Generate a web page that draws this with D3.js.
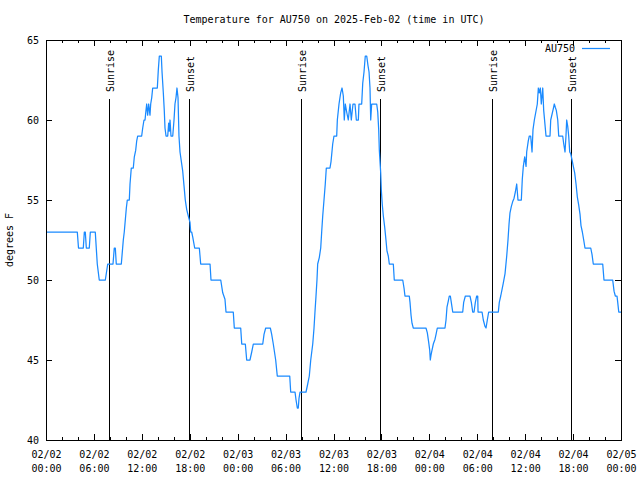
<!DOCTYPE html>
<html>
<head>
<meta charset="utf-8">
<script src="https://cdn.jsdelivr.net/npm/d3@7"></script>
<style>
html,body{margin:0;padding:0;background:#fff;}
svg{display:block;}
text{font-family:"DejaVu Sans Mono","Liberation Mono",monospace;font-size:10px;fill:#000;}
</style>
</head>
<body>
<svg id="chart" width="640" height="480"></svg>
<script>
// ---- data (hours since 2025-02-02 00:00 UTC, temperature in °F) ----
const hours = [0,3.92,4.07,4.67,4.80,4.92,5.05,5.42,5.55,6.17,6.42,6.67,7.43,7.73,8.39,8.55,8.68,8.80,9.43,9.68,9.80,10.06,10.18,10.43,10.52,10.68,10.93,11.06,11.23,11.36,11.48,11.98,12.11,12.27,12.40,12.52,12.61,12.73,12.86,13.02,13.11,13.24,13.36,13.94,14.06,14.19,14.44,14.53,14.69,14.81,14.90,15.03,15.24,15.36,15.44,15.53,15.65,15.87,16.03,16.15,16.28,16.40,16.53,16.65,16.78,17.12,17.28,17.44,17.62,17.82,18.03,18.12,18.24,18.37,18.62,19.20,19.37,20.54,20.66,21.88,22.13,22.41,22.54,23.45,23.58,24.38,24.51,24.96,25.13,25.54,25.76,25.96,27.14,27.30,27.51,28.09,28.26,28.46,28.76,28.96,30.52,30.64,31.18,31.31,31.47,31.59,31.68,31.81,32.56,32.77,32.97,33.15,33.40,33.56,33.68,33.81,33.93,34.02,34.22,34.40,34.52,34.65,34.81,34.97,35.10,35.56,35.69,35.90,36.06,36.40,36.48,36.69,36.90,37.07,37.23,37.35,37.48,37.65,37.85,38.07,38.23,38.44,38.69,38.86,39.11,39.19,39.53,39.66,39.82,39.98,40.16,40.32,40.45,40.57,40.66,40.78,41.41,41.54,41.66,41.74,41.91,41.99,42.11,42.24,42.41,42.57,42.70,42.86,42.99,43.49,43.61,44.67,44.83,44.95,45.49,45.58,45.71,45.83,45.99,47.58,47.75,47.92,48.05,48.12,48.21,48.33,48.50,48.71,48.84,49.00,49.96,50.09,50.21,50.38,50.50,50.63,50.75,50.93,52.18,52.30,52.51,53.09,53.26,53.43,53.60,53.76,53.93,54.06,54.10,54.60,54.76,54.97,55.10,55.26,55.43,56.64,56.76,56.94,57.10,57.26,57.48,57.69,57.85,57.98,58.10,58.27,58.44,58.60,58.77,58.94,59.10,59.52,59.64,59.77,59.94,60.11,60.19,60.39,60.52,60.69,60.86,60.98,61.15,61.52,61.65,61.77,61.90,62.02,62.20,62.32,62.61,63.11,63.20,63.52,63.65,63.77,63.90,64.08,64.20,64.70,64.83,64.99,65.11,65.20,65.33,65.45,65.58,65.70,65.87,66.03,66.20,66.37,66.53,66.70,66.87,66.99,67.16,67.33,67.49,68.21,68.37,68.53,69.71,69.87,70.96,71.13,71.29,71.50,71.59,71.72,72.00];
const tempF = [53,53,52,52,53,53,52,52,53,53,51,50,50,51,51,52,52,51,51,52.5,53,54.5,55,55,56,57,57,57.7,58.1,58.7,59,59,59.5,60,60,60.6,61,60.3,61,60.3,61,61.4,62,62,63.1,64,64,63,61.7,60.6,59.5,59,59,59.8,59.3,60,59,59,60,61,61.4,62,61.4,59,58,56.8,55.9,55,54.4,54,53.6,53,53,52.7,52,52,51,51,50,50,49.2,48.8,48,48,47,47,46,46,45,45,45.5,46,46,46.6,47,47,46.6,46,45,44,44,43,43,42.5,42,42,42.6,43,43,43.5,44,45,46,47,48,49,50,51,51.4,52,53,54,55,56,57,57,57.4,58.5,59,59,60,61,61.7,62,61.5,60,61,60.5,60,61,60,61,61,60,60,61,61,62.3,63,64,64,63.4,63,62,60,61,61,60.5,59.4,58.1,56.7,55.6,54.7,54,53.3,52.5,51.8,51.5,51,51,50,50,49.5,49,49,48.6,47.8,47.3,47,47,46.7,46.1,45.6,45,45.3,45.6,46,46.3,46.6,47,47,47.5,48.3,48.7,49,49,48.6,48,48,48.6,49,49,48.6,48,48,48.6,49,49,48,48,47.5,47.1,47,47.5,48,48,48.6,49,49.4,49.8,50.4,51.5,52.5,53.5,54.2,54.6,54.9,55.1,55.5,56,55,55,56.3,57.1,57.7,57.1,58,58.7,59,59,58,59.4,60,61,62,61.7,62,61,62,60.6,59,59,60,60.7,61,60.8,60.6,60,59,59,58.5,58,59,60,59.6,59,58,57.9,57.5,57.1,56.7,56,55.2,54.7,54.1,53.4,53,52.5,52,52,51.6,51,51,50,50,49.3,49,49,48.6,48,48];
const seriesName = "AU750";
const eventHours = [7.93, 17.87, 31.89, 41.82, 55.89, 65.74];
const eventLabels = ["Sunrise","Sunset","Sunrise","Sunset","Sunrise","Sunset"];
const yTicks = [40,45,50,55,60,65];
const titleText = "Temperature for AU750 on 2025-Feb-02 (time in UTC)";
const yLabel = "degrees F";

// ---- setup ----
const t0 = new Date(Date.UTC(2025,1,2,0,0,0));
const toDate = h => new Date(t0.getTime() + h*3600e3);
const t1 = toDate(72);
const L = 46, R = 621, T = 40, B = 440;
const svg = d3.select("#chart");
const x = d3.scaleUtc().domain([t0, t1]).range([L, R]);
const y = d3.scaleLinear().domain([40, 65]).range([B, T]);
const data = hours.map((h,i)=>({t:toDate(h), v:tempF[i]}));
const color = "#1a8aff";

// title
svg.append("text").attr("x", 334).attr("y", 23).attr("text-anchor","middle").text(titleText);
// y label
svg.append("text").attr("transform","translate(13,240) rotate(-90)").attr("text-anchor","middle").text(yLabel);

// event lines (sunrise/sunset)
const ev = svg.append("g");
eventHours.forEach((h,i)=>{
  const xx = Math.round(x(toDate(h))) + 0.5;
  ev.append("line").attr("x1",xx).attr("x2",xx).attr("y1",99).attr("y2",B)
    .attr("stroke","#000").attr("stroke-width",1).attr("shape-rendering","crispEdges");
  ev.append("text").attr("transform",`translate(${xx+0.5},92) rotate(-90)`)
    .attr("dy","0.35em").attr("text-anchor","start").text(eventLabels[i]);
});

// data line
const line = d3.line().x(d=>x(d.t)).y(d=>y(d.v));
svg.append("path").datum(data).attr("d", line).attr("fill","none")
  .attr("stroke", color).attr("stroke-width",1.25).attr("stroke-linejoin","round");

// axes
const ax = svg.append("g").attr("shape-rendering","crispEdges");
// bottom major with labels
const gB = ax.append("g").attr("transform",`translate(0,${B})`)
  .call(d3.axisBottom(x).ticks(d3.utcHour.every(6)).tickSizeInner(-6).tickSizeOuter(0).tickFormat(()=>""));
gB.select(".domain").remove();
const fD = d3.utcFormat("%m/%d"), fT = d3.utcFormat("%H:%M");
gB.selectAll(".tick text").each(function(d){
  const s = d3.select(this).attr("y", 18).attr("dy", null)
    .style("font-family",'"DejaVu Sans Mono","Liberation Mono",monospace').style("font-size","10px");
  s.append("tspan").attr("x",0).attr("dy","0").text(fD(d));
  s.append("tspan").attr("x",0).attr("dy","14").text(fT(d));
});
// bottom minor
ax.append("g").attr("transform",`translate(0,${B})`)
  .call(d3.axisBottom(x).ticks(d3.utcHour.every(2)).tickSizeInner(-3).tickSizeOuter(0).tickFormat(()=>""))
  .select(".domain").remove();
// top major + minor
ax.append("g").attr("transform",`translate(0,${T})`)
  .call(d3.axisTop(x).ticks(d3.utcHour.every(6)).tickSizeInner(-6).tickSizeOuter(0).tickFormat(()=>""))
  .select(".domain").remove();
ax.append("g").attr("transform",`translate(0,${T})`)
  .call(d3.axisTop(x).ticks(d3.utcHour.every(2)).tickSizeInner(-3).tickSizeOuter(0).tickFormat(()=>""))
  .select(".domain").remove();
// left
const gL = ax.append("g").attr("transform",`translate(${L},0)`)
  .call(d3.axisLeft(y).tickValues(yTicks).tickSizeInner(-6).tickSizeOuter(0).tickPadding(7).tickFormat(d3.format("d")));
gL.select(".domain").remove();
gL.selectAll(".tick text").style("font-family",'"DejaVu Sans Mono","Liberation Mono",monospace').style("font-size","10px");
// right
ax.append("g").attr("transform",`translate(${R},0)`)
  .call(d3.axisRight(y).tickValues(yTicks).tickSizeInner(-6).tickSizeOuter(0).tickFormat(()=>""))
  .select(".domain").remove();
ax.selectAll(".tick line").attr("stroke","#000");
// border
ax.append("rect").attr("x",L).attr("y",T).attr("width",R-L).attr("height",B-T)
  .attr("fill","none").attr("stroke","#000").attr("stroke-width",1);

// legend
svg.append("text").attr("x",575).attr("y",52).attr("text-anchor","end").text(seriesName);
svg.append("line").attr("x1",582).attr("x2",610).attr("y1",48.5).attr("y2",48.5)
  .attr("stroke",color).attr("stroke-width",1.25);
</script>
</body>
</html>
